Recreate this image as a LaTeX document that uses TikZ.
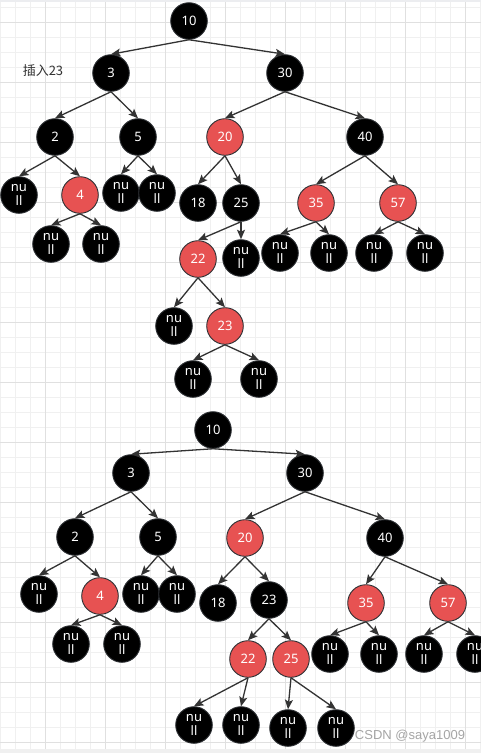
\documentclass[tikz,border=0pt]{standalone}
\usepackage{fontspec}
\setmainfont{Noto Sans}
\newfontfamily\cjkfont{Noto Sans CJK SC}
\newfontfamily\wmfont{Liberation Sans}
\usetikzlibrary{arrows.meta}
\definecolor{rbred}{RGB}{231,82,82}
\definecolor{edgec}{RGB}{51,51,51}
\definecolor{minorg}{RGB}{240,240,240}
\definecolor{majorg}{RGB}{224,224,224}
\definecolor{bandg}{RGB}{236,237,240}
\tikzset{
  bnode/.style={circle, minimum size=36.6pt, inner sep=0pt, fill=black, draw={rgb,255:red,45;green,48;blue,52}, line width=0.9pt, text=white, font=\fontsize{13}{13.5}\selectfont, align=center},
  rnode/.style={bnode, fill=rbred},
  edge/.style={draw=edgec, line width=1.3pt, -{Stealth[length=9.5pt,width=8pt,inset=2pt]}}
}
\begin{document}
\begin{tikzpicture}[x=1pt,y=-1pt]
\useasboundingbox (0,0) rectangle (481,753);
\clip (0,0) rectangle (481,753);
\fill[white] (0,0) rectangle (481,753);
% grid
\foreach \k in {0,...,32} {
  \draw[minorg, line width=1pt] ({0.7+15*\k},0) -- ({0.7+15*\k},753);
}
\foreach \k in {0,...,49} {
  \draw[minorg, line width=1pt] (0,{7.3+15*\k}) -- (481,{7.3+15*\k});
}
\foreach \k in {0,...,7} {
  \draw[majorg, line width=1pt] ({45.7+60*\k},0) -- ({45.7+60*\k},753);
}
\foreach \k in {0,...,12} {
  \draw[majorg, line width=1pt] (0,{22.3+60*\k}) -- (481,{22.3+60*\k});
}
\fill[bandg] (0,0) rectangle (481,2);
\fill[minorg] (0,749) rectangle (481,753);

% label
\node[font=\cjkfont\fontsize{13}{15}\selectfont, text={rgb,255:red,51;green,51;blue,51}] (lbl) at (43,71) {插入23};

% ---------- top tree ----------
\node[bnode] (a10) at (189,21) {10};
\node[bnode] (a3) at (111,73) {3};
\node[bnode] (a30) at (285,73) {30};
\node[bnode] (a2) at (55,137) {2};
\node[bnode] (a5) at (138,137) {5};
\node[rnode] (a20) at (225,137) {20};
\node[bnode] (a40) at (365,137) {40};
\node[bnode] (an1) at (19,195) {nu\\ll};
\node[rnode] (a4) at (80,195) {4};
\node[bnode] (an2) at (121,193) {nu\\ll};
\node[bnode] (an3) at (157,193) {nu\\ll};
\node[bnode] (a18) at (198,203) {18};
\node[bnode] (a25) at (241,203) {25};
\node[rnode] (a35) at (316,203) {35};
\node[rnode] (a57) at (398,203) {57};
\node[bnode] (an4) at (51,244) {nu\\ll};
\node[bnode] (an5) at (101,244) {nu\\ll};
\node[rnode] (a22) at (198,259) {22};
\node[bnode] (an6) at (241,258) {nu\\ll};
\node[bnode] (an7) at (280,253) {nu\\ll};
\node[bnode] (an8) at (329,253) {nu\\ll};
\node[bnode] (an9) at (374,253) {nu\\ll};
\node[bnode] (an10) at (425,253) {nu\\ll};
\node[bnode] (an11) at (174,326) {nu\\ll};
\node[rnode] (a23) at (225,326) {23};
\node[bnode] (an12) at (193,379) {nu\\ll};
\node[bnode] (an13) at (259,379) {nu\\ll};

\foreach \p/\c in {a10/a3,a10/a30,a3/a2,a3/a5,a2/an1,a2/a4,a4/an4,a4/an5,a5/an2,a5/an3,a30/a20,a30/a40,a20/a18,a20/a25,a25/a22,a25/an6,a22/an11,a22/a23,a23/an12,a23/an13,a40/a35,a40/a57,a35/an7,a35/an8,a57/an9,a57/an10}
  \draw[edge] (\p.south) -- (\c.north);

% ---------- bottom tree ----------
\node[bnode] (b10) at (213,430) {10};
\node[bnode] (b3) at (131,473) {3};
\node[bnode] (b30) at (305,473) {30};
\node[bnode] (b2) at (75,537) {2};
\node[bnode] (b5) at (158,537) {5};
\node[rnode] (b20) at (245,538) {20};
\node[bnode] (b40) at (385,538) {40};
\node[bnode] (bn1) at (39,594) {nu\\ll};
\node[rnode] (b4) at (100,596) {4};
\node[bnode] (bn2) at (141,594) {nu\\ll};
\node[bnode] (bn3) at (177,594) {nu\\ll};
\node[bnode] (b18) at (218,603) {18};
\node[bnode] (b23) at (269,600) {23};
\node[rnode] (b35) at (366,603) {35};
\node[rnode] (b57) at (448,603) {57};
\node[bnode] (bn4) at (71,644) {nu\\ll};
\node[bnode] (bn5) at (122,644) {nu\\ll};
\node[rnode] (b22) at (248,659) {22};
\node[rnode] (b25) at (291,659) {25};
\node[bnode] (bn6) at (330,654) {nu\\ll};
\node[bnode] (bn7) at (379,654) {nu\\ll};
\node[bnode] (bn8) at (424,654) {nu\\ll};
\node[bnode] (bn9) at (475,654) {nu\\ll};
\node[bnode] (bn10) at (194,725) {nu\\ll};
\node[bnode] (bn11) at (241,725) {nu\\ll};
\node[bnode] (bn12) at (288,728) {nu\\ll};
\node[bnode] (bn13) at (336,728) {nu\\ll};

\foreach \p/\c in {b10/b3,b10/b30,b3/b2,b3/b5,b2/bn1,b2/b4,b4/bn4,b4/bn5,b5/bn2,b5/bn3,b30/b20,b30/b40,b20/b18,b20/b23,b23/b22,b23/b25,b22/bn10,b22/bn11,b25/bn12,b25/bn13,b40/b35,b40/b57,b35/bn6,b35/bn7,b57/bn8,b57/bn9}
  \draw[edge] (\p.south) -- (\c.north);

% watermark
\node[font=\wmfont\fontsize{13}{15}\selectfont, text={rgb,255:red,165;green,165;blue,165}, inner sep=0pt] (wm) at (410,736) {CSDN @saya1009};
\end{tikzpicture}
\end{document}
